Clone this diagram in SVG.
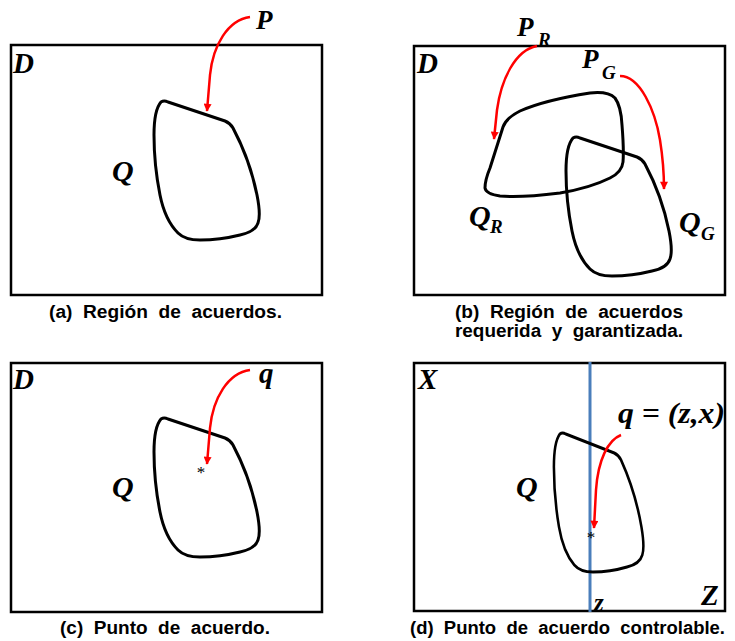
<svg xmlns="http://www.w3.org/2000/svg" width="735" height="641" viewBox="0 0 735 641">
<style>
.box{fill:none;stroke:#000;stroke-width:2.5}
.blob{fill:none;stroke:#000;stroke-width:3;stroke-linejoin:round}
.arr{fill:none;stroke:#ff0000;stroke-width:2.5;marker-end:url(#ah)}
.lab{font-family:"Liberation Serif","Times New Roman",serif;font-weight:bold;font-style:italic;fill:#000}
.cap{font-family:"Liberation Sans",Arial,sans-serif;font-weight:bold;font-size:18px;word-spacing:5px;fill:#000}
.ast{font-family:"Liberation Serif",serif;font-size:17px;fill:#000}
</style>
<defs>
<marker id="ah" viewBox="0 0 10 10" refX="9" refY="5" markerWidth="9" markerHeight="8" markerUnits="userSpaceOnUse" orient="auto">
<path d="M0,0 L10,5 L0,10 z" fill="#ff0000"/>
</marker>
<path id="qshape" d="M161,102 Q164,100 168,102 L225,121 Q230,123 233,128 Q250,160 257,195 Q261,215 258,223 Q255,232 240,235 Q220,240 200,240 Q185,240 178,233 Q165,220 160,195 Q154,165 154,135 Q154,110 161,102 Z"/>
</defs>

<g id="panel-a">
<rect class="box" x="11" y="45" width="311" height="250"/>
<text class="lab" x="13" y="73" font-size="29">D</text>
<text class="lab" x="256" y="29" font-size="27">P</text>
<text class="lab" x="112" y="181" font-size="30">Q</text>
<use href="#qshape" class="blob"/>
<text class="cap" x="49" y="318" textLength="233" lengthAdjust="spacingAndGlyphs">(a) Región de acuerdos.</text>
</g>

<g id="panel-b">
<rect class="box" x="414" y="46" width="311" height="249"/>
<text class="lab" x="417" y="73" font-size="29">D</text>
<text class="lab" x="517" y="36" font-size="27">P</text>
<text class="lab" x="538" y="46" font-size="19">R</text>
<text class="lab" x="582" y="68" font-size="27">P</text>
<text class="lab" x="602" y="79" font-size="19">G</text>
<path class="blob" d="M503,127 Q506,118 520,111 Q545,100 590,93 Q608,91 615,98 Q621,106 622,125 Q624,150 623,162 Q622,172 610,178 Q590,188 560,193 Q520,198 500,196 Q486,194 485,188 Q485,180 490,168 L503,127 Z"/>
<use href="#qshape" class="blob" transform="translate(412,36)"/>
<text class="lab" x="469" y="226" font-size="30">Q</text>
<text class="lab" x="490" y="233" font-size="19">R</text>
<text class="lab" x="679" y="232" font-size="30">Q</text>
<text class="lab" x="701" y="240" font-size="19">G</text>
<text class="cap" x="455" y="318" textLength="228" lengthAdjust="spacingAndGlyphs">(b) Región de acuerdos</text>
<text class="cap" x="455" y="337" textLength="228" lengthAdjust="spacingAndGlyphs">requerida y garantizada.</text>
</g>

<g id="panel-c">
<rect class="box" x="11" y="363" width="311" height="249"/>
<text class="lab" x="13" y="389" font-size="29">D</text>
<text class="lab" x="259" y="383" font-size="29">q</text>
<text class="lab" x="112" y="497" font-size="30">Q</text>
<use href="#qshape" class="blob" transform="translate(0,317)"/>
<text class="ast" x="201" y="478" text-anchor="middle">*</text>
<text class="cap" x="60" y="634" textLength="210" lengthAdjust="spacingAndGlyphs">(c) Punto de acuerdo.</text>
</g>

<g id="panel-d">
<rect class="box" x="414" y="363" width="311" height="248"/>
<line x1="590" y1="362" x2="590" y2="612" stroke="#4a7ebb" stroke-width="3"/>
<text class="lab" x="418" y="389" font-size="29">X</text>
<text class="lab" x="701" y="605" font-size="29">Z</text>
<text class="lab" x="594" y="611" font-size="25">z</text>
<text class="lab" x="618" y="423" font-size="30" textLength="107" lengthAdjust="spacingAndGlyphs">q = (z,x)</text>
<text class="lab" x="516" y="497" font-size="30">Q</text>
<use href="#qshape" class="blob" transform="matrix(0.85,0,0,1,423,332)" vector-effect="non-scaling-stroke"/>
<text class="ast" x="591" y="543" text-anchor="middle">*</text>
<text class="cap" x="410" y="634" textLength="315" lengthAdjust="spacingAndGlyphs">(d) Punto de acuerdo controlable.</text>
</g>

<g id="connectors">
<path class="arr" d="M250,17 C228,20 213,45 210,75 L207,111"/>
<path class="arr" d="M537,46 C515,50 501,80 497,110 L494,139"/>
<path class="arr" d="M620,76 C640,76 655,110 660,140 Q664,165 664,189"/>
<path class="arr" d="M250,370 C228,373 213,398 210,428 L207,464"/>
<path class="arr" d="M621,435 C608,440 598,460 596,490 L594,528"/>
</g>
</svg>
